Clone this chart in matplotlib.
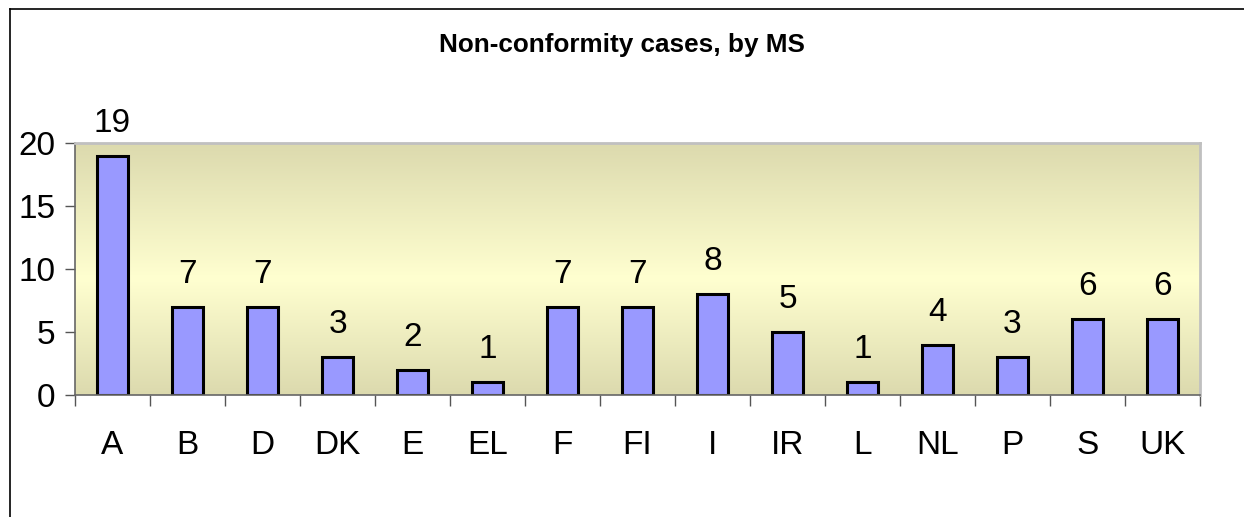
import numpy as np
import matplotlib.pyplot as plt
from matplotlib.colors import LinearSegmentedColormap

plt.rcParams['font.family'] = ['Liberation Sans', 'DejaVu Sans']

countries = ['A', 'B', 'D', 'DK', 'E', 'EL', 'F', 'FI', 'I', 'IR', 'L', 'NL', 'P', 'S', 'UK']
cases = [19, 7, 7, 3, 2, 1, 7, 7, 8, 5, 1, 4, 3, 6, 6]
yticks = [0, 5, 10, 15, 20]

fig = plt.figure(figsize=(12.44, 5.17), dpi=100)
ax = fig.add_axes([75/1244, 1 - 395/517, (1200-75)/1244, (395-143)/517])

# outer frame (top and left only visible)
fig.add_artist(plt.Line2D([10/1244, 10/1244], [0, 1 - 9/517], color='black', lw=1.2, transform=fig.transFigure))
fig.add_artist(plt.Line2D([10/1244, 1], [1 - 9/517, 1 - 9/517], color='black', lw=1.2, transform=fig.transFigure))

x = np.arange(len(countries))
ax.set_xlim(-0.5, len(countries) - 0.5)
ax.set_ylim(0, 20)

# khaki gradient background, light band a bit below the middle
cmap = LinearSegmentedColormap.from_list('bg', [(0, '#DCDAAE'), (0.46, '#FFFFD0'), (1, '#DCDAAE')])
grad = np.linspace(0, 1, 256).reshape(-1, 1)
ax.imshow(grad, cmap=cmap, aspect='auto', extent=[-0.5, len(countries) - 0.5, 20, 0], zorder=0)

bars = ax.bar(x, cases, width=0.41, color='#9999FF', edgecolor='black', linewidth=2.2, zorder=2)
for xi, v in zip(x, cases):
    ax.text(xi, v + 1.9, str(v), ha='center', va='baseline', fontsize=24, clip_on=False)

ax.set_yticks(yticks)
ax.set_yticklabels([str(t) for t in yticks], fontsize=24)
ax.tick_params(axis='y', direction='out', length=7, width=1, color='#555555', pad=7)

ax.set_xticks(x)
ax.set_xticklabels(countries, fontsize=24)
ax.tick_params(axis='x', length=0, pad=25)
ax.set_xticks(np.arange(-0.5, len(countries)), minor=True)
ax.tick_params(axis='x', which='minor', direction='out', length=8, width=1, color='#555555')

for side in ['top', 'right']:
    ax.spines[side].set_color('#C0C0C0')
    ax.spines[side].set_linewidth(2)
for side in ['left', 'bottom']:
    ax.spines[side].set_color('#666666')
    ax.spines[side].set_linewidth(1.2)

fig.text(0.5, 1 - 45/517, 'Non-conformity cases, by MS', ha='center', va='center',
         fontsize=18.8, fontweight='bold')

fig.savefig('out.png', dpi=100)
